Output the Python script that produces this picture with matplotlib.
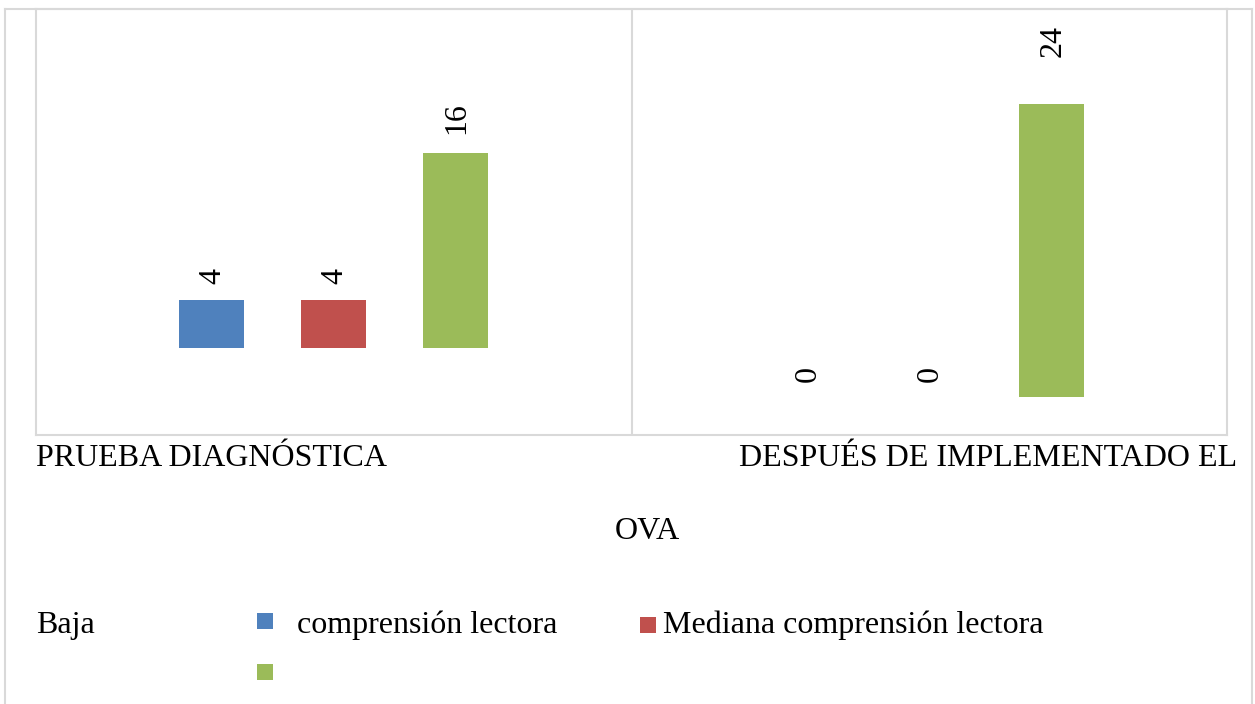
import matplotlib.pyplot as plt
from matplotlib.patches import Rectangle
from matplotlib.lines import Line2D

# data
categories = ["PRUEBA DIAGNÓSTICA", "DESPUÉS DE IMPLEMENTADO EL OVA"]
series_names = ["Baja comprensión lectora", "Mediana comprensión lectora", ""]
baja = [4, 0]
mediana = [4, 0]
tercera = [16, 24]

colors = ["#4f81bd", "#c0504d", "#9bbb59"]
grid_col = "#d9d9d9"
group_base = [7.1, 3.1]   # the source chart floats each group at a different height
offsets = [-0.205, 0, 0.205]
bar_w = 0.109
# label gap above each bar, in points (series x group), as in the source
label_pad = [[11, 11], [11, 11], [14, 34]]

plt.rcParams['font.family'] = ['Liberation Serif', 'DejaVu Serif']
FS = 23

W, H = 1255, 704
fig = plt.figure(figsize=(W / 100, H / 100), dpi=100)


def fx(x):
    return x / W


def fy(y):
    return 1 - y / H


ax = fig.add_axes([fx(36), fy(435), fx(1227) - fx(36), fy(9) - fy(435)])
ax.set_xlim(-0.5, 1.5)
ax.set_ylim(0, 34.9)

for j, vals in enumerate([baja, mediana, tercera]):
    for i, v in enumerate(vals):
        x = i + offsets[j]
        if v > 0:
            ax.bar(x, v, width=bar_w, bottom=group_base[i], color=colors[j], linewidth=0)
        ax.annotate(str(v), (x, group_base[i] + v), xytext=(1, label_pad[j][i]),
                    textcoords="offset points", rotation=90, ha="center", va="bottom",
                    fontsize=FS)

ax.axvline(0.5, color=grid_col, lw=1.5)
for s in ax.spines.values():
    s.set_color(grid_col)
    s.set_linewidth(1.5)
ax.set_xticks([])
ax.set_yticks([])

# outer chart frame
for xs, ys in [([5, 5], [9, 720]), ([5, 1252], [9, 9]), ([1252, 1252], [9, 720])]:
    fig.add_artist(Line2D([fx(v) for v in xs], [fy(v) for v in ys], color=grid_col, lw=1.5))

# category labels (second one wraps in the source)
first_line, last_word = categories[1].rsplit(" ", 1)
fig.text(fx(36), fy(466), categories[0], fontsize=FS, va="baseline", ha="left")
fig.text(fx(1237), fy(466), first_line, fontsize=FS, va="baseline", ha="right")
fig.text(fx(647), fy(539), last_word, fontsize=FS, va="baseline", ha="center")

# legend, laid out like the broken wrap in the source
baja_word, baja_rest = series_names[0].split(" ", 1)
fig.text(fx(36), fy(633), baja_word, fontsize=FS, va="baseline", ha="left")
fig.add_artist(Rectangle((fx(257), fy(629)), fx(16), 16 / H, color=colors[0], lw=0))
fig.text(fx(297), fy(633), baja_rest, fontsize=FS, va="baseline", ha="left")
fig.add_artist(Rectangle((fx(640), fy(633)), fx(16), 16 / H, color=colors[1], lw=0))
fig.text(fx(663), fy(633), series_names[1], fontsize=FS, va="baseline", ha="left")
fig.add_artist(Rectangle((fx(257), fy(680)), fx(16), 16 / H, color=colors[2], lw=0))

fig.savefig("out.png", dpi=100)
